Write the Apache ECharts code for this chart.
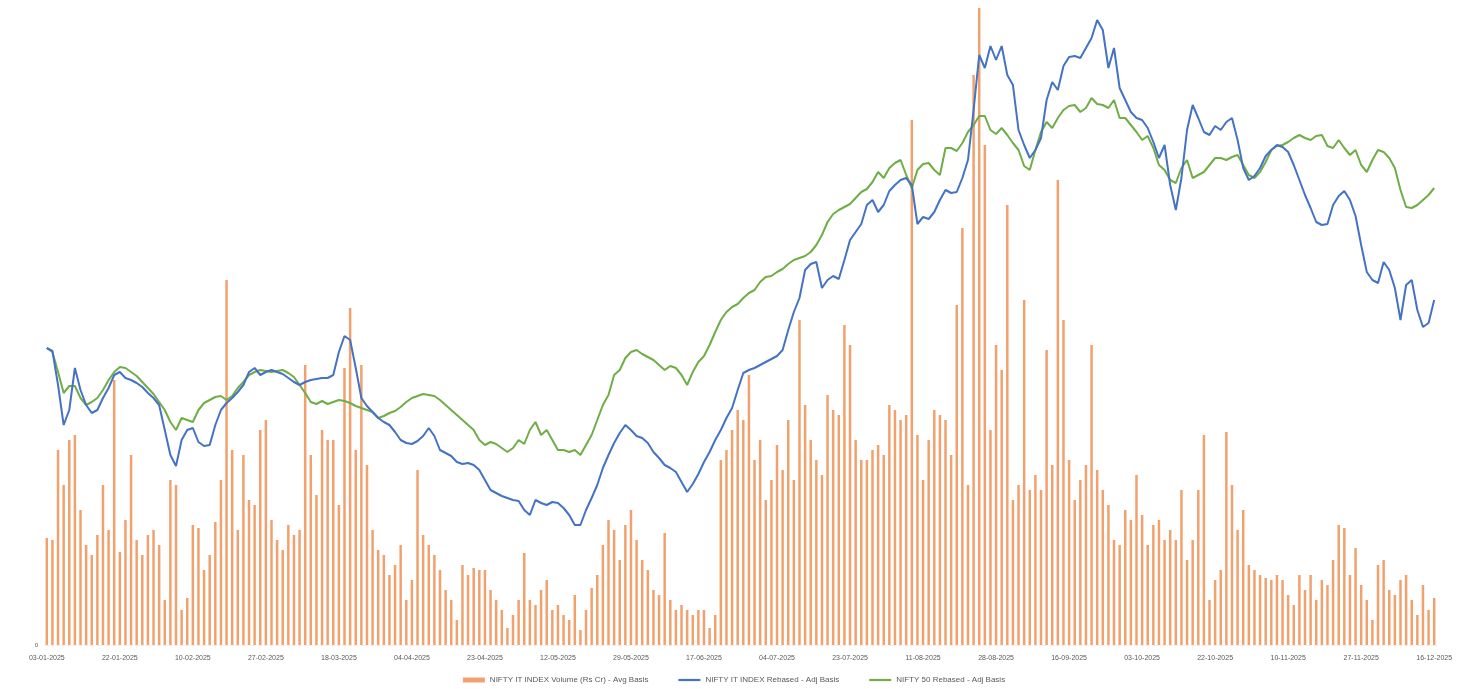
<!DOCTYPE html>
<html><head><meta charset="utf-8">
<script src="https://cdn.jsdelivr.net/npm/echarts@6/dist/echarts.min.js"></script>
<style>html,body{margin:0;padding:0;background:#fff}#c{width:1468px;height:689px}</style>
</head><body><div id="c"></div>
<script>
// Trading-day categories (weekdays from 03-01-2025), labels shown every 13th
const startDate = '2025-01-03';
const dayCount = 248;
const labelEvery = 13;
const seriesNames = ['NIFTY IT INDEX Volume (Rs Cr) - Avg Basis', 'NIFTY IT INDEX Rebased - Adj Basis', 'NIFTY 50 Rebased - Adj Basis'];

const volume = [
107,105,195,160,205,210,135,100,90,110,
160,115,265,93,125,190,105,90,110,115,
100,45,165,160,35,47,120,117,75,90,
123,165,365,195,115,190,145,140,215,225,
125,105,95,120,110,115,280,190,150,215,
205,205,140,277,337,195,280,180,115,95,
90,70,80,100,45,65,175,110,100,90,
75,55,45,25,80,70,77,75,75,55,
45,35,17,30,45,92,45,40,55,65,
35,40,30,25,50,15,35,57,70,100,
125,115,85,120,135,105,85,75,55,50,
112,45,35,40,35,30,35,35,17,30,
185,195,215,235,225,270,185,205,145,165,
200,175,225,165,325,240,205,185,170,250,
235,230,320,300,205,185,185,195,200,190,
240,235,225,230,525,210,165,205,235,230,
225,190,340,417,160,570,637,500,215,300,
275,440,145,160,345,155,170,155,295,180,
465,325,185,145,165,180,300,175,155,140,
105,100,135,125,170,130,100,120,125,105,
115,105,155,85,105,155,210,45,65,75,
213,160,115,135,80,75,70,67,65,70,
65,50,40,70,55,70,45,65,60,85,
120,117,70,97,60,45,25,80,85,55,
50,65,70,45,30,60,35,47];

const indexRebased = [
297,294,260,220,235,277,255,240,232,235,
247,257,270,273,267,265,262,258,252,247,
240,215,190,179,205,215,217,203,199,200,
220,235,242,247,253,260,273,277,270,273,
275,273,271,267,263,260,263,265,266,267,
267,270,293,309,305,277,247,239,233,227,
223,220,213,205,202,201,204,209,217,209,
195,192,189,183,181,182,180,175,165,155,
152,149,147,145,144,135,130,145,142,140,
143,142,137,130,120,120,135,147,160,177,
190,202,212,220,215,209,207,202,193,187,
180,177,173,163,153,161,171,183,193,205,
215,227,237,255,272,275,277,280,283,286,
289,295,315,333,347,375,381,383,357,365,
369,366,385,405,413,421,440,445,433,440,
454,460,465,467,460,421,428,426,433,445,
455,452,453,467,485,535,590,577,599,585,
599,570,560,515,500,487,495,507,545,563,
555,579,588,589,587,597,607,625,615,577,
597,557,545,533,527,525,517,503,487,500,
460,435,467,515,540,527,513,510,519,515,
523,527,505,477,465,469,477,489,495,500,
498,493,480,465,450,437,423,420,421,440,
449,454,445,429,400,373,365,362,383,375,
357,325,360,365,335,318,322,345];

const benchmarkRebased = [
297,293,273,252,259,259,247,240,243,247,
255,265,273,278,277,273,269,263,257,251,
243,235,223,215,227,225,223,235,242,245,
248,249,245,249,257,263,270,273,275,274,
273,274,275,272,268,260,252,243,241,244,
241,243,245,244,242,239,237,235,233,227,
229,232,234,238,243,247,249,251,250,249,
245,240,235,230,225,220,215,205,200,203,
201,197,193,197,205,201,215,223,210,215,
205,195,195,193,195,190,200,210,225,240,
250,270,275,287,293,295,291,288,285,280,
275,279,277,270,260,273,283,289,300,313,
325,333,338,341,347,352,355,363,368,369,
373,376,381,385,387,389,393,400,410,423,
431,435,438,441,447,453,456,463,473,467,
477,482,485,470,457,475,481,482,475,470,
497,497,494,502,513,520,529,529,515,511,
517,510,502,495,479,475,495,513,523,517,
527,535,539,540,533,537,547,541,540,537,
545,527,527,520,513,505,509,497,480,475,
465,462,477,485,467,470,473,480,487,487,
485,488,490,480,470,467,473,483,495,499,
500,503,507,510,507,505,509,510,499,497,
505,497,490,495,480,473,485,495,493,487,
477,455,438,437,440,445,450,457];

// build weekday date categories
const categories = [];
(function(){
  const d = new Date(startDate + 'T00:00:00Z');
  while (categories.length < dayCount) {
    const wd = d.getUTCDay();
    if (wd !== 0 && wd !== 6) {
      const dd = String(d.getUTCDate()).padStart(2,'0');
      const mm = String(d.getUTCMonth()+1).padStart(2,'0');
      categories.push(dd + '-' + mm + '-' + d.getUTCFullYear());
    }
    d.setUTCDate(d.getUTCDate()+1);
  }
})();

const chart = echarts.init(document.getElementById('c'));
const font = 'Liberation Sans, Arial, sans-serif';
chart.setOption({
  animation: false,
  backgroundColor: '#fff',
  grid: { left: 44, right: 31, top: 8, bottom: 44, containLabel: false },
  legend: {
    bottom: 0, left: 'center', itemGap: 30, itemWidth: 22, itemHeight: 5,
    textStyle: { fontFamily: font, fontSize: 8, color: '#595959' },
    data: [
      { name: seriesNames[0], icon: 'rect' },
      { name: seriesNames[1], icon: 'path://M0,0 L10,0 L10,1 L0,1 Z' },
      { name: seriesNames[2], icon: 'path://M0,0 L10,0 L10,1 L0,1 Z' }
    ]
  },
  xAxis: {
    type: 'category', data: categories, boundaryGap: true,
    axisLine: { show: true, lineStyle: { color: '#f2f2f2' } },
    axisTick: { show: false },
    axisLabel: { interval: labelEvery - 1, fontFamily: font, fontSize: 7, color: '#595959', margin: 10 }
  },
  yAxis: [
    { type: 'value', min: 0, max: 637, interval: 637, splitLine: { show: false },
      axisLine: { show: false }, axisTick: { show: false },
      axisLabel: { fontFamily: font, fontSize: 6, color: '#595959', margin: 6,
        formatter: v => v === 0 ? '0' : '' } },
    { type: 'value', min: 0, max: 637, show: false, splitLine: { show: false } }
  ],
  series: [
    { name: seriesNames[0], type: 'bar', yAxisIndex: 0, data: volume, barWidth: 2.5,
      itemStyle: { color: '#EE8A48', opacity: 0.8 }, z: 1 },
    { name: seriesNames[1], type: 'line', yAxisIndex: 1, data: indexRebased, symbol: 'none',
      lineStyle: { color: '#4472C4', width: 2 }, itemStyle: { color: '#4472C4' }, z: 3 },
    { name: seriesNames[2], type: 'line', yAxisIndex: 1, data: benchmarkRebased, symbol: 'none',
      lineStyle: { color: '#70AD47', width: 2 }, itemStyle: { color: '#70AD47' }, z: 2 }
  ]
});
</script></body></html>
